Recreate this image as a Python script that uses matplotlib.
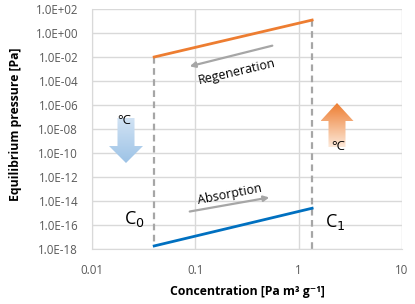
import numpy as np
import matplotlib
matplotlib.use("Agg")
import matplotlib.pyplot as plt
from matplotlib.patches import Polygon
from matplotlib.ticker import FixedLocator, NullLocator

plt.rcParams['font.family'] = ['Open Sans', 'DejaVu Sans']

# Data
conc = [0.04, 1.35]
regen_p = [1e-2, 12]
absorb_p = [1.8e-18, 2.5e-15]
y_exps = list(range(-18, 3, 2))
y_labels = [f"1.0E{e:+03d}" for e in y_exps]
x_ticks = [0.01, 0.1, 1, 10]
x_labels = ["0.01", "0.1", "1", "10"]

W, H = 415, 304
fig = plt.figure(figsize=(W/100, H/100), dpi=100)
L, R, T, B = 92, 402, 9, 249
ax = fig.add_axes([L/W, 1-B/H, (R-L)/W, (B-T)/H])

ax.set_xscale('log'); ax.set_yscale('log')
ax.set_xlim(0.01, 10); ax.set_ylim(1e-18, 1e2)
ax.yaxis.set_major_locator(FixedLocator([10.0**e for e in y_exps]))
ax.yaxis.set_minor_locator(NullLocator())
ax.set_yticklabels(y_labels)
ax.xaxis.set_major_locator(FixedLocator(x_ticks))
ax.xaxis.set_minor_locator(NullLocator())
ax.set_xticklabels(x_labels)
ax.tick_params(length=0, labelsize=8.3, colors='#595959')
ax.tick_params(axis='x', pad=11)
ax.tick_params(axis='y', pad=10)
ax.grid(True, color='#d9d9d9', lw=1)
for s in ['top', 'right']:
    ax.spines[s].set_visible(False)
for s in ['left', 'bottom']:
    ax.spines[s].set_color('#d9d9d9')
ax.set_axisbelow(True)

ax.set_xlabel("Concentration [Pa m³ g⁻¹]", fontsize=8.8, fontweight='bold', va='center')
ax.set_ylabel("Equilibrium pressure [Pa]", fontsize=8.8, fontweight='bold', va='center')
ax.xaxis.set_label_coords(0.5, (B-291)/(B-T))
ax.yaxis.set_label_coords((16-L)/(R-L), (B-124)/(B-T))

# dashed verticals
ax.plot([conc[0], conc[0]], [regen_p[0], absorb_p[0]], ls=(0, (3, 2)), color='#a6a6a6', lw=1.6, zorder=2)
ax.plot([conc[1], conc[1]], [regen_p[1], 1e-18], ls=(0, (3, 2)), color='#a6a6a6', lw=1.6, zorder=2, clip_on=False)

ax.plot(conc, regen_p, color='#ed7d31', lw=2, zorder=3)
ax.plot(conc, absorb_p, color='#0070c0', lw=2, zorder=3)

def P(x, y):
    return (x/W, 1-y/H)

# gray process arrows
ap = dict(arrowstyle='-|>', color='#a6a6a6', lw=1.6, mutation_scale=8)
ax.annotate('', xy=P(187, 67), xytext=P(275, 45), xycoords='figure fraction', textcoords='figure fraction', arrowprops=ap)
ax.annotate('', xy=P(272, 197), xytext=P(187, 212), xycoords='figure fraction', textcoords='figure fraction', arrowprops=ap)
fig.text(*P(237, 72), "Regeneration", fontsize=9, rotation=13, ha='center', va='center')
fig.text(*P(230, 194), "Absorption", fontsize=9, rotation=11, ha='center', va='center')

fig.text(*P(134, 219), "C$_0$", fontsize=13, ha='center', va='center')
fig.text(*P(335, 222), "C$_1$", fontsize=13, ha='center', va='center')

# block arrows with gradient
axi = fig.add_axes([0, 0, 1, 1], facecolor='none')
axi.set_axis_off()
axi.set_xlim(0, 1); axi.set_ylim(0, 1)

def block_arrow(cx, ytail, ybase, ytip, sw, hw, c_top, c_bot):
    verts = [P(cx-sw/2, ytail), P(cx+sw/2, ytail), P(cx+sw/2, ybase), P(cx+hw/2, ybase),
             P(cx, ytip), P(cx-hw/2, ybase), P(cx-sw/2, ybase)]
    ys = [min(ytail, ytip), max(ytail, ytip)]
    grad = np.linspace(0, 1, 100)[:, None]
    c1 = np.array(matplotlib.colors.to_rgb(c_top)); c2 = np.array(matplotlib.colors.to_rgb(c_bot))
    img = c1[None, None, :]*(1-grad[:, :, None]) + c2[None, None, :]*grad[:, :, None]
    x0, y0 = P(cx-hw/2, ys[1]); x1, y1 = P(cx+hw/2, ys[0])
    ii = axi.imshow(img, extent=[x0, x1, y0, y1], aspect='auto', origin='upper', zorder=5)
    poly2 = Polygon(verts, closed=True, transform=axi.transAxes, facecolor='none', edgecolor='none')
    axi.add_patch(poly2)
    ii.set_clip_path(poly2)

block_arrow(126, 118, 146, 163, 17, 34, '#d2e3f4', '#9dc3e6')
block_arrow(337, 147, 121, 103, 17, 33, '#ed7d31', '#fde9d9')
fig.text(*P(124, 120), "°C", fontsize=9.5, ha='center', va='center', zorder=10)
fig.text(*P(338, 146), "°C", fontsize=9.5, ha='center', va='center', zorder=10)

fig.savefig("out.png", dpi=100)
